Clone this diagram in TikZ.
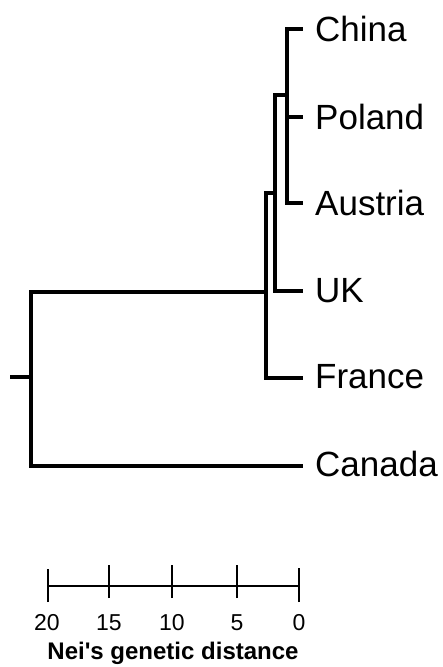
\documentclass[tikz,border=0pt]{standalone}
\usepackage{fontspec}
\setmainfont{Liberation Sans}
\begin{document}
\begin{tikzpicture}[x=1pt,y=-1pt,
  branch/.style={line width=3.5pt,line cap=rect,line join=miter},
  leaflabel/.style={anchor=base west,inner sep=0pt,font=\fontsize{35}{40}\selectfont},
  scalebar/.style={line width=1.4pt},
  ticklabel/.style={anchor=base,inner sep=0pt,font=\fontsize{23}{26}\selectfont},
  axistitle/.style={anchor=base,inner sep=0pt,font=\fontsize{24}{28}\selectfont\bfseries}]
\useasboundingbox (0,0) rectangle (442,667);
% leaf tips
\coordinate (tChina) at (301,29);
\coordinate (tPoland) at (301,117);
\coordinate (tAustria) at (301,203);
\coordinate (tUK) at (301,291);
\coordinate (tFrance) at (301,378);
\coordinate (tCanada) at (301,466);
% internal nodes
\coordinate (nCPA) at (287,29);
\coordinate (nCPAb) at (287,203);
\coordinate (nUK) at (275,95);
\coordinate (nUKb) at (275,291);
\coordinate (nFR) at (266,193);
\coordinate (nFRb) at (266,378);
\coordinate (nRoot) at (31,292);
\coordinate (nRootb) at (31,466);
\coordinate (root) at (10,377);
% tree
\draw[branch] (tChina) -- (nCPA) -- (nCPAb) -- (tAustria);
\draw[branch] (nCPA |- tPoland) -- (tPoland);
\draw[branch] (nCPA |- nUK) -- (nUK) -- (nUKb) -- (tUK);
\draw[branch] (nUK |- nFR) -- (nFR) -- (nFRb) -- (tFrance);
\draw[branch] (nFR |- nRoot) -- (nRoot) -- (nRootb) -- (tCanada);
\draw[branch,line cap=butt] (root) -- (nRoot |- root);
% labels
\node[leaflabel] (China) at (315,41) {China};
\node[leaflabel] (Poland) at (315,129) {Poland};
\node[leaflabel] (Austria) at (315,215) {Austria};
\node[leaflabel] (UK) at (315,302) {UK};
\node[leaflabel] (France) at (315,388) {France};
\node[leaflabel] (Canada) at (315,476) {Canada};
% scale bar
\coordinate (s20) at (48,586);
\coordinate (s15) at (109,586);
\coordinate (s10) at (172,586);
\coordinate (s5) at (237,586);
\coordinate (s0) at (299,586);
\draw[scalebar] (s20) -- (s0);
\draw[scalebar] ([yshift=-16pt]s20) -- ([yshift=17pt]s20);
\draw[scalebar] ([yshift=-16pt]s0) -- ([yshift=18pt]s0);
\foreach \c in {s15,s10,s5}{
  \draw[scalebar] ([yshift=-12pt]\c) -- ([yshift=21pt]\c);
}
\node[ticklabel] (l20) at (47,630) {20};
\node[ticklabel] (l15) at (109,630) {15};
\node[ticklabel] (l10) at (172,630) {10};
\node[ticklabel] (l5) at (237,630) {5};
\node[ticklabel] (l0) at (299,630) {0};
\node[axistitle] (title) at (173,659) {Nei\textquotesingle s genetic distance};
\end{tikzpicture}
\end{document}
